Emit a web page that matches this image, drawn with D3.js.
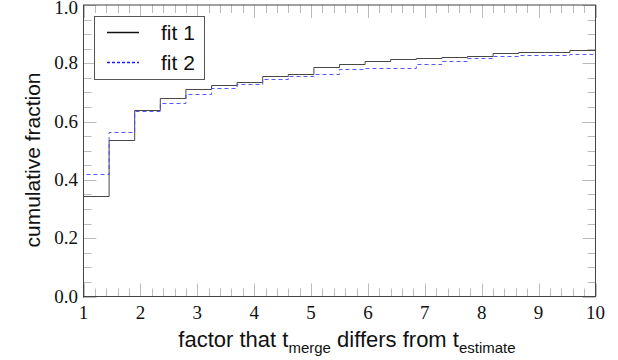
<!DOCTYPE html>
<html>
<head>
<meta charset="utf-8">
<script src="https://cdn.jsdelivr.net/npm/d3@7"></script>
<style>
  body { margin: 0; background: #fff; }
  text { fill: #111; }
</style>
</head>
<body>
<svg id="chart" width="618" height="360"></svg>
<script>
// bin edges: 20 equal bins from 1 to 10
var binEdges = [1, 1.45, 1.9, 2.35, 2.8, 3.25, 3.7, 4.15, 4.6, 5.05, 5.5,
                5.95, 6.4, 6.85, 7.3, 7.75, 8.2, 8.65, 9.1, 9.55, 10];

// cumulative fraction per bin
var fit1 = [0.345, 0.536, 0.640, 0.681, 0.712, 0.724, 0.735, 0.757, 0.762, 0.788,
            0.798, 0.807, 0.815, 0.817, 0.823, 0.825, 0.834, 0.838, 0.838, 0.846];
var fit2 = [0.420, 0.565, 0.636, 0.665, 0.695, 0.714, 0.729, 0.745, 0.758, 0.763,
            0.780, 0.785, 0.785, 0.797, 0.809, 0.817, 0.826, 0.828, 0.828, 0.831];

var xTicks = [1, 2, 3, 4, 5, 6, 7, 8, 9, 10];
var yTicks = [0, 0.2, 0.4, 0.6, 0.8, 1.0];

var svg = d3.select("#chart");

// plot box (note: "top" is reserved on window, so use pTop)
var pLeft = 83.5, pRight = 595.5, pTop = 5, pBottom = 296.5;

var x = d3.scaleLinear().domain([1, 10]).range([pLeft, pRight]);
var y = d3.scaleLinear().domain([0, 1]).range([pBottom, pTop]);

var tickCol = "#bbb";
var serif = "'Liberation Serif', 'DejaVu Serif', serif";
var sans = "'Liberation Sans', Arial, sans-serif";

// minor + major ticks on all four sides (inward)
var xMinor = d3.range(1, 10.001, 0.2).filter(function(v) { return Math.abs(v - Math.round(v)) > 0.01; });
var yMinor = d3.range(0, 1.001, 0.05).filter(function(v) { return Math.abs(v * 5 - Math.round(v * 5)) > 0.01; });

var ticks = svg.append("g").attr("stroke", tickCol).attr("stroke-width", 1);

function xTick(v, len) {
  var px = Math.round(x(v)) + 0.5;
  ticks.append("line").attr("x1", px).attr("x2", px).attr("y1", pBottom).attr("y2", pBottom - len);
  ticks.append("line").attr("x1", px).attr("x2", px).attr("y1", pTop).attr("y2", pTop + len);
}
function yTick(v, len) {
  var py = Math.round(y(v)) + 0.5;
  ticks.append("line").attr("x1", pLeft).attr("x2", pLeft + len).attr("y1", py).attr("y2", py);
  ticks.append("line").attr("x1", pRight).attr("x2", pRight - len).attr("y1", py).attr("y2", py);
}
xMinor.forEach(function(v) { xTick(v, 8); });
xTicks.forEach(function(v) { xTick(v, 13); });
yMinor.forEach(function(v) { yTick(v, 8); });
yTicks.forEach(function(v) { yTick(v, 13); });

// tick labels
svg.append("g").selectAll("text")
  .data(xTicks)
  .enter().append("text")
    .attr("x", function(d) { return x(d); })
    .attr("y", 319)
    .attr("text-anchor", "middle")
    .style("font-family", serif)
    .style("font-size", "19px")
    .text(function(d) { return d; });

svg.append("g").selectAll("text")
  .data(yTicks)
  .enter().append("text")
    .attr("x", 78)
    .attr("y", function(d) { return Math.max(y(d) + 6, 14); })
    .attr("text-anchor", "end")
    .style("font-family", serif)
    .style("font-size", "19px")
    .text(function(d) { return d.toFixed(1); });

// step lines
function stepPath(vals) {
  var pts = [[binEdges[0], 0]];
  vals.forEach(function(v, i) {
    pts.push([binEdges[i], v]);
    pts.push([binEdges[i + 1], v]);
  });
  return d3.line()
    .x(function(d) { return x(d[0]); })
    .y(function(d) { return Math.round(y(d[1])) + 0.5; })(pts);
}

svg.append("path")
  .attr("d", stepPath(fit1))
  .attr("fill", "none")
  .attr("stroke", "#333")
  .attr("stroke-width", 0.9);

svg.append("path")
  .attr("d", stepPath(fit2))
  .attr("fill", "none")
  .attr("stroke", "#4545ff")
  .attr("stroke-width", 0.9)
  .attr("stroke-dasharray", "4,3");

// frame
svg.append("rect")
  .attr("x", pLeft).attr("y", pTop)
  .attr("width", pRight - pLeft).attr("height", pBottom - pTop)
  .attr("fill", "none")
  .attr("stroke", "#444")
  .attr("stroke-width", 1);

// legend
var lg = svg.append("g");
lg.append("rect")
  .attr("x", 94.5).attr("y", 16.5)
  .attr("width", 110).attr("height", 63)
  .attr("fill", "#fff")
  .attr("stroke", "#555");
lg.append("line")
  .attr("x1", 107).attr("x2", 139).attr("y1", 32.5).attr("y2", 32.5)
  .attr("stroke", "#111").attr("stroke-width", 1.5);
lg.append("line")
  .attr("x1", 107).attr("x2", 139).attr("y1", 62.5).attr("y2", 62.5)
  .attr("stroke", "#1a1aff").attr("stroke-width", 1.5)
  .attr("stroke-dasharray", "3,2");
lg.append("text").attr("x", 161).attr("y", 40)
  .style("font-family", sans).style("font-size", "21px").text("fit 1");
lg.append("text").attr("x", 161).attr("y", 70)
  .style("font-family", sans).style("font-size", "21px").text("fit 2");

// axis titles
svg.append("text")
  .attr("transform", "translate(40,160) rotate(-90)")
  .attr("text-anchor", "middle")
  .style("font-family", sans)
  .style("font-size", "21px")
  .text("cumulative fraction");

var xl = svg.append("text")
  .attr("x", 347)
  .attr("y", 347)
  .attr("text-anchor", "middle")
  .style("font-family", sans)
  .style("font-size", "22px");
xl.append("tspan").text("factor that t");
xl.append("tspan").attr("dy", 6).style("font-size", "15px").text("merge");
xl.append("tspan").attr("dy", -6).text(" differs from t");
xl.append("tspan").attr("dy", 6).style("font-size", "15px").text("estimate");
</script>
</body>
</html>
